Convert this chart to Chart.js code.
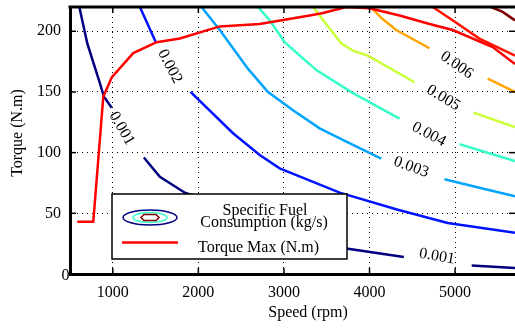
<!DOCTYPE html>
<html lang="en">
  <head>
    <meta charset="utf-8" />
    <title>Specific Fuel Consumption map</title>
    <style>
      html, body { margin: 0; padding: 0; background: #fff; overflow: hidden; }
      #chart { display: block; }
    </style>
  </head>
  <body>
    <canvas id="chart" width="515" height="329"></canvas>
    <script src="https://cdn.jsdelivr.net/npm/chart.js@4/dist/chart.umd.min.js"></script>
    <script>
      const FONT = "'Liberation Serif', 'Times New Roman', serif";

      // iso-lines of specific fuel consumption, [speed rpm, torque N.m], null = break for the label
      const levels = ["0.001", "0.002", "0.003", "0.004", "0.005", "0.006", "0.007", "0.008"];
      const levelColors = ["#000080", "#0012ff", "#00a4ff", "#36ffc9", "#c9ff36", "#ffa400", "#ff1200", "#800000"];

      const sfc001 = [[609, 220], [702, 190], [850, 157], [897, 146], [987, 137], null,
        [1363, 96], [1550, 80], [1842, 67], [3729, 21], [4401, 14], null, [5194, 7], [5700, 5]];
      const sfc002 = [[1317, 220], [1503, 191], null, [1908, 150], [2405, 116], [2717, 98],
        [2950, 87], [3651, 67], [4331, 53], [4914, 42], [5700, 34]];
      const sfc003 = [[2037, 220], [2250, 201], [2405, 186], [2581, 169], [2814, 150], [3106, 135],
        [3417, 120], [3729, 109], [4137, 95], null, [4876, 78], [5284, 71], [5700, 64]];
      const sfc004 = [[2697, 220], [2834, 209], [3009, 191], [3184, 180], [3379, 168], [3806, 149],
        [4351, 128], null, [5051, 107], [5284, 102], [5700, 93]];
      const sfc005 = [[3339, 220], [3670, 190], [3806, 184], [3981, 180], [4526, 158], null,
        [5214, 133], [5700, 121]];
      const sfc006 = [[4012, 220], [4137, 211], [4312, 201], [4701, 186], null, [5381, 161], [5700, 150]];
      const sfc007 = [[4739, 220], [4992, 208], [5284, 194], [5700, 180]];
      const sfc008 = [[5421, 220], [5556, 216], [5700, 209]];
      const contours = [sfc001, sfc002, sfc003, sfc004, sfc005, sfc006, sfc007, sfc008];

      // max torque curve
      const torqueSpeed = [585, 772, 889, 987, 1239, 1512, 1784, 2250, 2717, 3300, 3456, 3729, 4001, 4351, 4701, 4973, 5439, 5700];
      const torqueMax = [43, 43, 146, 162, 182, 191, 194, 204, 206, 213, 215, 220, 219, 213, 206, 201, 187, 173];

      // contour labels: text, speed, torque, angle (deg)
      const contourLabels = [
        ["0.001", 1103, 120, 60],
        ["0.002", 1667, 171, 62],
        ["0.003", 4487, 88, 20],
        ["0.004", 4693, 115, 28],
        ["0.005", 4864, 145, 31],
        ["0.006", 5019, 172, 35],
        ["0.001", 4788, 14.5, 10],
      ];

      const xTicks = [1000, 2000, 3000, 4000, 5000];
      const yTicks = [0, 50, 100, 150, 200];

      const toPoints = (arr) => arr.map((p, i) => p ? { x: p[0], y: p[1] } : { x: arr[i - 1][0], y: null });

      const datasets = [{
        label: "Torque Max (N.m)",
        data: torqueSpeed.map((s, i) => ({ x: s, y: torqueMax[i] })),
        borderColor: "#ff0000",
        borderWidth: 2.5,
      }];
      contours.forEach((c, i) => {
        datasets.push({
          label: levels[i],
          data: toPoints(c),
          borderColor: levelColors[i],
          borderWidth: 2.5,
        });
      });

      const extras = {
        id: "extras",
        afterDatasetsDraw(chart) {
          const { ctx, chartArea: a, scales: { x, y } } = chart;
          ctx.save();
          const seg = (x1, y1, x2, y2) => { ctx.beginPath(); ctx.moveTo(x1, y1); ctx.lineTo(x2, y2); ctx.stroke(); };

          // top box edge + inward ticks
          ctx.strokeStyle = "#000";
          ctx.lineWidth = 3;
          seg(a.left - 1.5, a.top, a.right, a.top);
          ctx.lineWidth = 1.5;
          xTicks.forEach(v => {
            const px = x.getPixelForValue(v);
            seg(px, a.bottom, px, a.bottom - 6);
            seg(px, a.top, px, a.top + 6);
          });
          yTicks.forEach(v => {
            const py = y.getPixelForValue(v);
            seg(a.left, py, a.left + 6, py);
            seg(a.right, py, a.right - 6, py);
          });

          // contour labels
          ctx.fillStyle = "#000";
          ctx.font = "16px " + FONT;
          ctx.textAlign = "center";
          ctx.textBaseline = "middle";
          contourLabels.forEach(([t, sx, ty, ang]) => {
            ctx.save();
            ctx.translate(x.getPixelForValue(sx), y.getPixelForValue(ty));
            ctx.rotate(ang * Math.PI / 180);
            ctx.fillText(t, 0, 0);
            ctx.restore();
          });

          // legend box
          const L = 112, T = 194, R = 347, B = 259;
          ctx.fillStyle = "#fff";
          ctx.fillRect(L, T, R - L, B - T);
          ctx.strokeStyle = "#000";
          ctx.lineWidth = 1.5;
          ctx.strokeRect(L, T, R - L, B - T);

          const cx = 150, cy = 217.5;
          ctx.lineWidth = 1.5;
          ctx.strokeStyle = levelColors[0];
          ctx.beginPath(); ctx.ellipse(cx, cy, 27, 7.5, 0, 0, Math.PI * 2); ctx.stroke();
          ctx.strokeStyle = levelColors[3];
          ctx.beginPath(); ctx.ellipse(cx, cy, 17, 5, 0, 0, Math.PI * 2); ctx.stroke();
          ctx.strokeStyle = levelColors[7];
          ctx.beginPath();
          ctx.moveTo(cx - 9, cy); ctx.lineTo(cx - 6, cy - 3); ctx.lineTo(cx + 6, cy - 3);
          ctx.lineTo(cx + 9, cy); ctx.lineTo(cx + 6, cy + 3); ctx.lineTo(cx - 6, cy + 3);
          ctx.closePath(); ctx.stroke();

          ctx.strokeStyle = "#ff0000";
          ctx.lineWidth = 2.5;
          seg(122, 242.5, 178, 242.5);

          ctx.fillStyle = "#000";
          ctx.font = "16px " + FONT;
          ctx.textAlign = "center";
          ctx.fillText("Specific Fuel", 265, 210.5);
          ctx.fillText("Consumption (kg/s)", 264, 223);
          ctx.textAlign = "left";
          ctx.fillText("Torque Max (N.m)", 198, 248);

          // axis titles and the zero label
          ctx.textAlign = "center";
          ctx.fillText("Speed (rpm)", 308, 313);
          ctx.fillText("0", 65.5, 276);
          ctx.save();
          ctx.translate(17.5, 133);
          ctx.rotate(-Math.PI / 2);
          ctx.fillText("Torque (N.m)", 0, 0);
          ctx.restore();

          ctx.restore();
        },
      };

      const chart = new Chart(document.getElementById("chart"), {
        type: "line",
        data: { datasets },
        plugins: [extras],
        options: {
          responsive: false,
          animation: false,
          layout: { padding: { top: 7, left: 0, right: 0, bottom: 0 } },
          elements: { point: { radius: 0 }, line: { tension: 0 } },
          plugins: { legend: { display: false }, tooltip: { enabled: false } },
          scales: {
            x: {
              type: "linear",
              min: 500,
              max: 5700,
              afterBuildTicks: (s) => { s.ticks = xTicks.map(v => ({ value: v })); },
              afterFit: (s) => { s.height = 55; s.paddingLeft = 0; s.paddingRight = 0; },
              ticks: {
                autoSkip: false,
                maxRotation: 0,
                padding: 9,
                color: "#000",
                font: { family: FONT, size: 16 },
                callback: (v) => String(v),
              },
              grid: { color: "#000", lineWidth: 1, drawTicks: false },
              border: { display: true, color: "#000", width: 3, dash: [1, 4] },
            },
            y: {
              min: 0,
              max: 220,
              afterBuildTicks: (s) => { s.ticks = yTicks.map(v => ({ value: v })); },
              afterFit: (s) => { s.width = 70; s.paddingTop = 0; s.paddingBottom = 0; },
              ticks: {
                padding: 9,
                color: "#000",
                font: { family: FONT, size: 16 },
                callback: (v) => (v === 0 ? "" : String(v)),
              },
              grid: { color: "#000", lineWidth: 1, drawTicks: false },
              border: { display: true, color: "#000", width: 3, dash: [1, 4] },
            },
          },
        },
      });
    </script>
  </body>
</html>
